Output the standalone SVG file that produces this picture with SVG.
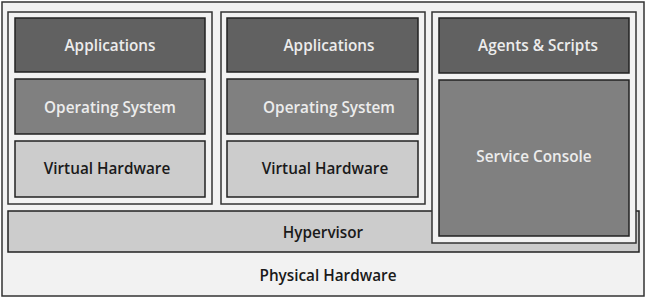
<svg xmlns="http://www.w3.org/2000/svg" width="647" height="300" viewBox="0 0 647 300">
<style>
.frame{fill:#f2f2f2;stroke:#333;stroke-width:1.5}
.dark{fill:#616161;stroke:#222;stroke-width:1.5}
.mid{fill:#808080;stroke:#222;stroke-width:1.5}
.light{fill:#cccccc;stroke:#222;stroke-width:1.5}
text{font-family:"Open Sans","DejaVu Sans",sans-serif;font-size:15.3px;font-weight:600;text-anchor:middle;dominant-baseline:central}
.wt{fill:#ececec}
.bt{fill:#1a1a1a}
</style>
<rect width="647" height="300" fill="#ffffff"/>
<g id="physical-hardware">
<rect class="frame" x="2" y="2" width="642" height="294"/>
<text class="bt" x="328" y="275">Physical Hardware</text>
</g>
<g id="hypervisor">
<rect class="light" x="8" y="211" width="631" height="41"/>
<text class="bt" x="323" y="232">Hypervisor</text>
</g>
<g id="vm1">
<rect class="frame" x="8" y="12" width="204" height="192"/>
<g id="vm1-apps"><rect class="dark" x="15" y="18" width="190" height="54"/><text class="wt" x="110" y="45">Applications</text></g>
<g id="vm1-os"><rect class="mid" x="15" y="79" width="190" height="55"/><text class="wt" x="110" y="107">Operating System</text></g>
<g id="vm1-vh"><rect class="light" x="15" y="141" width="190" height="56"/><text class="bt" x="107" y="168">Virtual Hardware</text></g>
</g>
<g id="vm2">
<rect class="frame" x="221" y="12" width="204" height="192"/>
<g id="vm2-apps"><rect class="dark" x="227" y="18" width="191" height="54"/><text class="wt" x="329" y="45">Applications</text></g>
<g id="vm2-os"><rect class="mid" x="227" y="79" width="191" height="55"/><text class="wt" x="329" y="107">Operating System</text></g>
<g id="vm2-vh"><rect class="light" x="227" y="141" width="191" height="56"/><text class="bt" x="325" y="168">Virtual Hardware</text></g>
</g>
<g id="console">
<rect class="frame" x="432" y="12" width="204" height="231"/>
<g id="agents"><rect class="dark" x="439" y="18" width="190" height="55"/><text class="wt" x="538" y="45">Agents &amp; Scripts</text></g>
<g id="service-console"><rect class="mid" x="439" y="80" width="190" height="156"/><text class="wt" x="534" y="156">Service Console</text></g>
</g>
<g id="connectors"/>
</svg>
